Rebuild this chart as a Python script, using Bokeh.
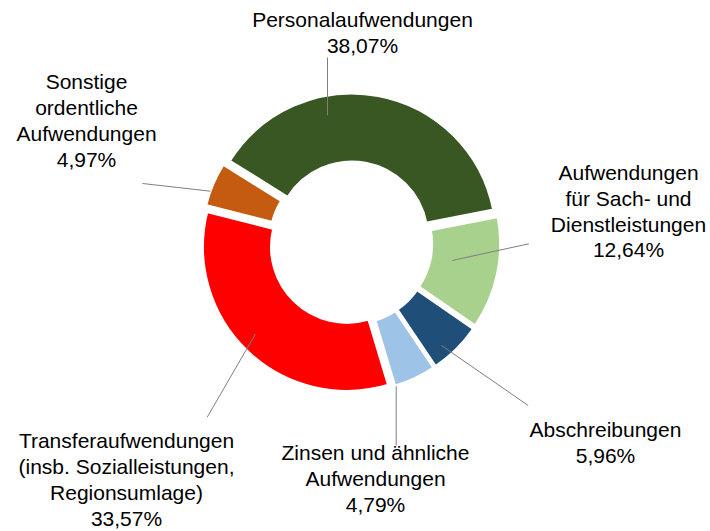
import numpy as np
from bokeh.plotting import figure
from bokeh.models import Range1d, ColumnDataSource
from bokeh.embed import file_html
from bokeh.resources import INLINE
from bokeh.core.properties import value

# ---------------- data ----------------
categories = [
    "Personalaufwendungen",
    "Aufwendungen für Sach- und Dienstleistungen",
    "Abschreibungen",
    "Zinsen und ähnliche Aufwendungen",
    "Transferaufwendungen (insb. Sozialleistungen, Regionsumlage)",
    "Sonstige ordentliche Aufwendungen",
]
shares = [38.07, 12.64, 5.96, 4.79, 33.57, 4.97]
label_lines = [
    ["Personalaufwendungen"],
    ["Aufwendungen", "für Sach- und", "Dienstleistungen"],
    ["Abschreibungen"],
    ["Zinsen und ähnliche", "Aufwendungen"],
    ["Transferaufwendungen", "(insb. Sozialleistungen,", "Regionsumlage)"],
    ["Sonstige", "ordentliche", "Aufwendungen"],
]
colors = ["#385723", "#A9D18E", "#1F4E79", "#9DC3E6", "#FF0000", "#C55A11"]

# ---------------- layout ----------------
W, H = 710, 531
CX, CY = 350.3, 242.4          # donut centre in page pixels (top-down)
R_OUT, R_IN = 144.5, 75.5
EXPLODE = 5.5
START = 302.0                  # first slice angle, clockwise from 12 o'clock
FONT_PX = 21
LINE_STEP = 25.8
TEXT_SHIFT = -8.0
# label centre x and first baseline (page pixels, top-down)
label_pos = [(362, 26.7), (628, 180.0), (605, 436.7), (375, 460.0), (126, 448.3), (86, 89.3)]
# leader lines: label end -> slice end (page pixels, top-down)
leader_pts = [
    ((327.0, 57.0), (327.0, 115.0)),
    ((528.3, 243.3), (451.7, 260.0)),
    ((527.7, 405.0), (441.0, 345.0)),
    ((395.7, 445.0), (395.7, 385.7)),
    ((206.7, 416.7), (255.0, 333.3)),
    ((142.0, 183.0), (210.0, 190.7)),
]

# ---------------- geometry from data ----------------
vals = np.array(shares, dtype=float)
cum = np.concatenate([[0.0], np.cumsum(vals)]) / vals.sum() * 360.0
t1 = START + cum[:-1]
t2 = START + cum[1:]
tm = np.radians((t1 + t2) / 2.0)
wedges = ColumnDataSource(dict(
    x=CX + EXPLODE * np.sin(tm),
    y=(H - CY) + EXPLODE * np.cos(tm),
    start=np.radians(90.0 - t2),
    end=np.radians(90.0 - t1),
    color=colors,
    name=categories,
))

p = figure(width=W, height=H, x_range=Range1d(0, W), y_range=Range1d(0, H),
           output_backend="svg", toolbar_location=None,
           x_axis_location=None, y_axis_location=None, min_border=0)
p.grid.visible = False
p.outline_line_color = None
p.background_fill_color = "white"
p.border_fill_color = "white"

p.annular_wedge(x="x", y="y", inner_radius=R_IN, outer_radius=R_OUT,
                start_angle="start", end_angle="end", direction="anticlock",
                fill_color="color", line_color="white", line_width=3,
                source=wedges)

# leader lines
p.multi_line(xs=[[a[0], b[0]] for a, b in leader_pts],
             ys=[[H - a[1], H - b[1]] for a, b in leader_pts],
             line_color="#7F7F7F", line_width=1)

# labels
tx, ty, tt = [], [], []
for i, s in enumerate(shares):
    pct = f"{s:.2f}".replace(".", ",") + "%"
    lines = label_lines[i] + [pct]
    lx, ly = label_pos[i]
    for j, line in enumerate(lines):
        tx.append(lx)
        ty.append(H - (ly + TEXT_SHIFT + j * LINE_STEP))
        tt.append(line)
p.text(x=tx, y=ty, text=tt, text_align="center", text_baseline="alphabetic",
       text_font=value("Liberation Sans"), text_font_size=f"{FONT_PX}px",
       text_color="#000000")

open("out.html", "w").write(file_html(p, INLINE))
